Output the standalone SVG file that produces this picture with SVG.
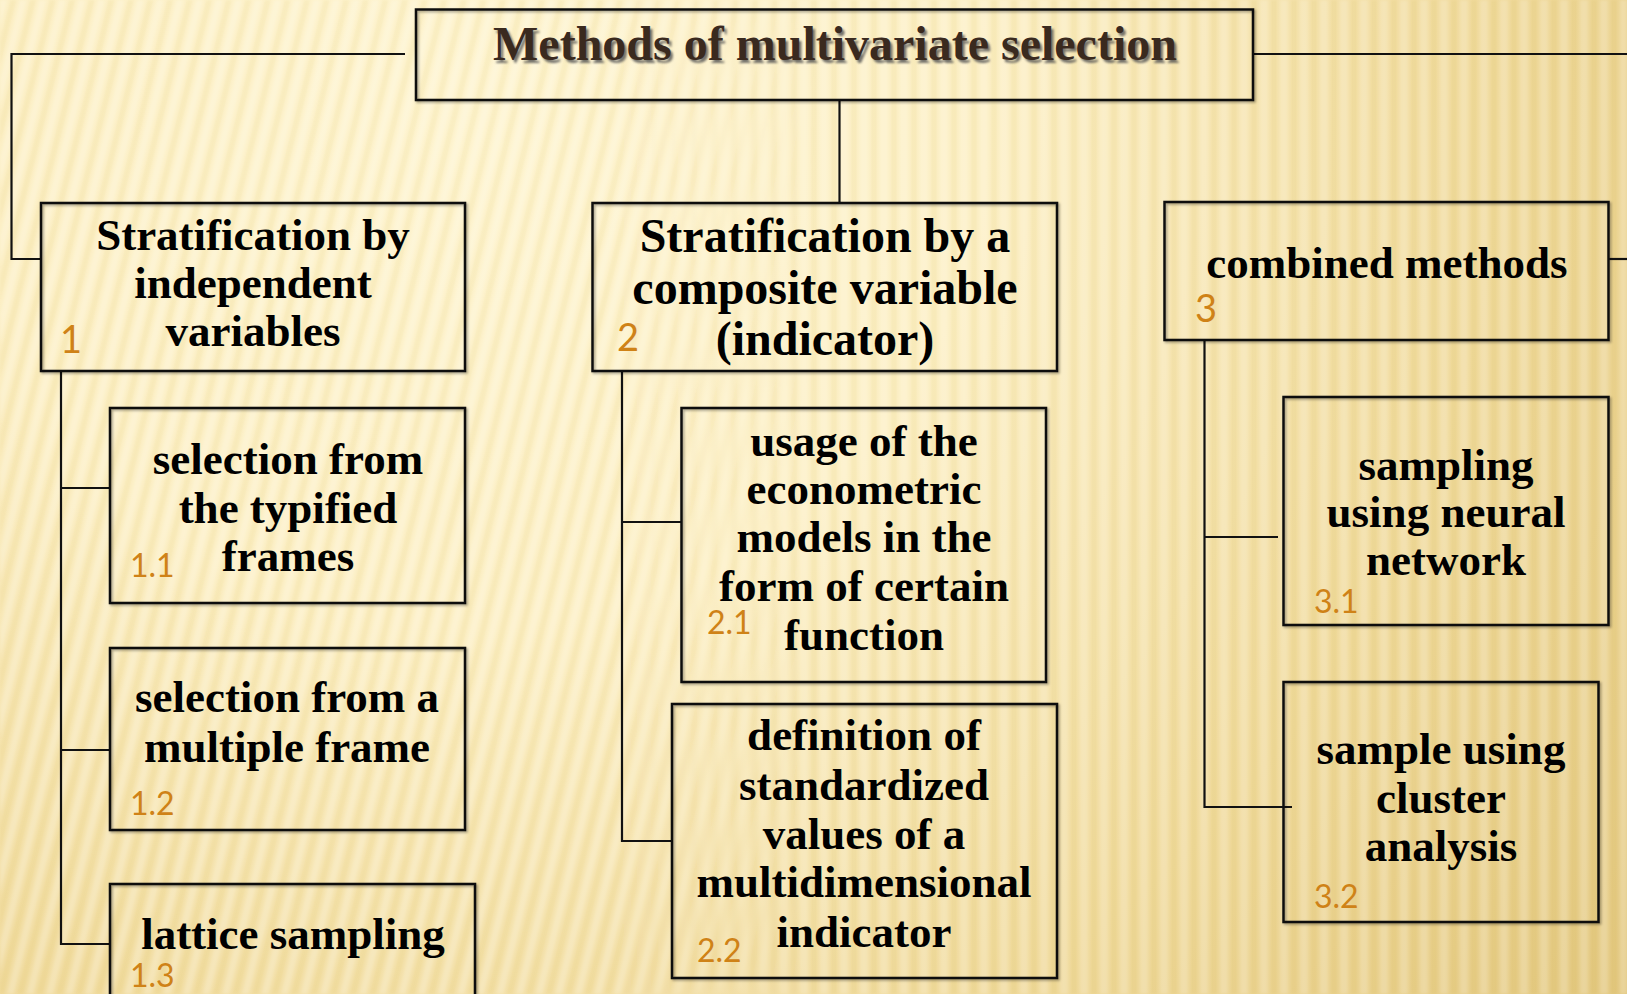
<svg xmlns="http://www.w3.org/2000/svg" width="1627" height="994" viewBox="0 0 1627 994">
<defs>
<radialGradient id="bg" cx="480" cy="120" r="1450" gradientUnits="userSpaceOnUse">
<stop offset="0" stop-color="#fef4cf"/>
<stop offset="0.35" stop-color="#fcefc4"/>
<stop offset="0.7" stop-color="#f0da9c"/>
<stop offset="1" stop-color="#e3c880"/>
</radialGradient>
<pattern id="stripesD" width="19" height="40" patternUnits="userSpaceOnUse" patternTransform="rotate(14)">
<rect x="0" y="0" width="7" height="40" fill="#ffffff" opacity="0.22"/>
<rect x="10" y="0" width="6" height="40" fill="#b08a30" opacity="0.06"/>
</pattern>
<pattern id="stripesV" width="20" height="40" patternUnits="userSpaceOnUse">
<rect x="0" y="0" width="8" height="40" fill="#ffffff" opacity="0.2"/>
<rect x="11" y="0" width="6" height="40" fill="#a88020" opacity="0.06"/>
</pattern>
<linearGradient id="fadeL" x1="0" y1="0" x2="1" y2="0">
<stop offset="0" stop-color="#fff" stop-opacity="1"/>
<stop offset="0.38" stop-color="#fff" stop-opacity="1"/>
<stop offset="0.5" stop-color="#fff" stop-opacity="0"/>
</linearGradient>
<linearGradient id="fadeR" x1="0" y1="0" x2="1" y2="0">
<stop offset="0.38" stop-color="#fff" stop-opacity="0"/>
<stop offset="0.5" stop-color="#fff" stop-opacity="1"/>
</linearGradient>
<mask id="mL"><rect width="1627" height="994" fill="url(#fadeL)"/></mask>
<mask id="mR"><rect width="1627" height="994" fill="url(#fadeR)"/></mask>
<filter id="soft"><feGaussianBlur stdDeviation="1.5"/></filter>
<filter id="tshadow" x="-5%" y="-20%" width="110%" height="140%">
<feGaussianBlur stdDeviation="1.2"/>
</filter>
<filter id="bshadow" x="-5%" y="-5%" width="110%" height="110%">
<feDropShadow dx="1.5" dy="1.5" stdDeviation="1" flood-color="#000" flood-opacity="0.35"/>
</filter>
</defs>
<style>
.box{fill:none;stroke:#111;stroke-width:2.5}
.t{font-family:"Liberation Serif","Times New Roman",serif;font-weight:bold;font-size:45px;fill:#000;text-anchor:middle}
.t48{font-size:48px}
.n{font-family:Lato,"Noto Sans",sans-serif;font-size:32px;fill:#cf8217}
.nb{font-size:38px}
.c{fill:none;stroke:#111;stroke-width:2.2}
.title{font-family:"Liberation Serif","Times New Roman",serif;font-weight:bold;font-size:48px;text-anchor:middle}
</style>
<rect width="1627" height="994" fill="url(#bg)"/>
<g filter="url(#soft)">
<rect width="1627" height="994" fill="url(#stripesD)" mask="url(#mL)"/>
<rect width="1627" height="994" fill="url(#stripesV)" mask="url(#mR)"/>
</g>

<g id="connectors">
<path class="c" d="M405,54 H11.5 V259 H41"/>
<path class="c" d="M1253,54 H1627"/>
<path class="c" d="M839.5,100 V203"/>
<path class="c" d="M1608.5,259 H1627"/>
<path class="c" d="M61,371 V944 H110 M61,488 H110 M61,750 H110"/>
<path class="c" d="M622,371 V841 H672 M622,522 H681.5"/>
<path class="c" d="M1204.5,340 V807 H1292 M1204.5,537 H1278"/>
</g>

<g id="title">
<rect class="box" x="416" y="9.5" width="837" height="90.5" filter="url(#bshadow)"/>
<text class="title" x="837.5" y="62.5" fill="#555" opacity="0.8" filter="url(#tshadow)">Methods of multivariate selection</text>
<text class="title" x="835" y="60" fill="#3a2a1f">Methods of multivariate selection</text>
</g>

<g id="n1">
<rect class="box" x="41" y="203" width="424" height="168" filter="url(#bshadow)"/>
<text class="t" x="253" y="250">Stratification by</text>
<text class="t" x="253" y="298">independent</text>
<text class="t" x="253" y="346">variables</text>
<text class="n nb" x="60" y="353">1</text>
</g>

<g id="n2">
<rect class="box" x="592.5" y="203" width="464.5" height="168" filter="url(#bshadow)"/>
<text class="t t48" x="825" y="252">Stratification by a</text>
<text class="t t48" x="825" y="304">composite variable</text>
<text class="t t48" x="825" y="355">(indicator)</text>
<text class="n nb" x="617" y="351">2</text>
</g>

<g id="n3">
<rect class="box" x="1164.5" y="202" width="444" height="138" filter="url(#bshadow)"/>
<text class="t" x="1387" y="278">combined methods</text>
<text class="n nb" x="1195" y="322">3</text>
</g>

<g id="n11">
<rect class="box" x="110" y="408" width="355" height="195" filter="url(#bshadow)"/>
<text class="t" x="288" y="474">selection from</text>
<text class="t" x="288" y="523">the typified</text>
<text class="t" x="288" y="571">frames</text>
<text class="n" x="130" y="577">1.1</text>
</g>

<g id="n12">
<rect class="box" x="110" y="648" width="355" height="182" filter="url(#bshadow)"/>
<text class="t" x="287" y="712">selection from a</text>
<text class="t" x="287" y="762">multiple frame</text>
<text class="n" x="130" y="815">1.2</text>
</g>

<g id="n13">
<rect class="box" x="110" y="884" width="365" height="130" filter="url(#bshadow)"/>
<text class="t" x="293" y="949">lattice sampling</text>
<text class="n" x="130" y="987">1.3</text>
</g>

<g id="n21">
<rect class="box" x="681.5" y="408" width="364.5" height="274" filter="url(#bshadow)"/>
<text class="t" x="864" y="456">usage of the</text>
<text class="t" x="864" y="504">econometric</text>
<text class="t" x="864" y="552">models in the</text>
<text class="t" x="864" y="601">form of certain</text>
<text class="t" x="864" y="650">function</text>
<text class="n" x="707" y="634">2.1</text>
</g>

<g id="n22">
<rect class="box" x="672" y="704" width="385" height="274" filter="url(#bshadow)"/>
<text class="t" x="864" y="750">definition of</text>
<text class="t" x="864" y="800">standardized</text>
<text class="t" x="864" y="849">values of a</text>
<text class="t" x="864" y="897">multidimensional</text>
<text class="t" x="864" y="947">indicator</text>
<text class="n" x="697" y="962">2.2</text>
</g>

<g id="n31">
<rect class="box" x="1283.5" y="397" width="325" height="228" filter="url(#bshadow)"/>
<text class="t" x="1446" y="480">sampling</text>
<text class="t" x="1446" y="527">using neural</text>
<text class="t" x="1446" y="575">network</text>
<text class="n" x="1314" y="613">3.1</text>
</g>

<g id="n32">
<rect class="box" x="1283.5" y="682" width="315" height="240" filter="url(#bshadow)"/>
<text class="t" x="1441" y="764">sample using</text>
<text class="t" x="1441" y="813">cluster</text>
<text class="t" x="1441" y="861">analysis</text>
<text class="n" x="1314" y="908">3.2</text>
</g>
</svg>
